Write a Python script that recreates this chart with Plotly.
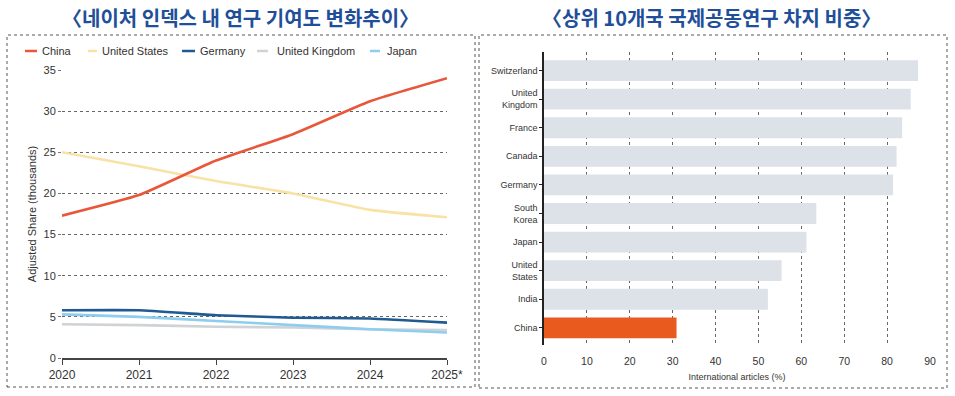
import plotly.graph_objects as go

# ---- Left chart data: Nature Index adjusted share (thousands) ----
years = [2020, 2021, 2022, 2023, 2024, 2025]
year_labels = ["2020", "2021", "2022", "2023", "2024", "2025*"]
china = [17.3, 19.8, 24.0, 27.2, 31.2, 34.0]
united_states = [25.0, 23.3, 21.5, 20.0, 18.0, 17.1]
germany = [5.8, 5.8, 5.2, 4.9, 4.8, 4.3]
united_kingdom = [4.1, 4.0, 3.8, 3.7, 3.5, 3.4]
japan = [5.3, 5.0, 4.5, 4.0, 3.5, 3.1]
series_names = ["China", "United States", "Germany", "United Kingdom", "Japan"]
series_colors = ["#e8573a", "#f8e2a6", "#1f5a92", "#cfd3d6", "#8fcdef"]
y_ticks = [0, 5, 10, 15, 20, 25, 30, 35]

# ---- Right chart data: share of international articles (%) ----
countries = ["China", "India", "United<br>States", "Japan", "South<br>Korea",
             "Germany", "Canada", "France", "United<br>Kingdom", "Switzerland"]
intl_share = [30.9, 52.2, 55.4, 61.2, 63.5, 81.4, 82.2, 83.5, 85.5, 87.2]
bar_colors = ["#e85a1e"] + ["#dde1e8"] * 9
x_ticks = [0, 10, 20, 30, 40, 50, 60, 70, 80, 90]

W, H = 955, 396


def px(x):
    return x / W


def py(y):
    return 1 - y / H


FONT = "Liberation Sans"
TXT = "#333333"

fig = go.Figure()
all_series = [china, united_states, germany, united_kingdom, japan]
order = [3, 4, 1, 2, 0]
for i in order:
    fig.add_trace(go.Scatter(
        x=years, y=all_series[i], mode="lines", name=series_names[i],
        line=dict(color=series_colors[i], width=2.6, shape="spline", smoothing=0.4),
        xaxis="x", yaxis="y", showlegend=False))

fig.add_trace(go.Bar(
    x=intl_share, y=countries, orientation="h",
    marker=dict(color=bar_colors, line=dict(width=0)),
    xaxis="x2", yaxis="y2", showlegend=False))

fig.update_layout(
    width=W, height=H, margin=dict(l=0, r=0, t=0, b=0),
    paper_bgcolor="white", plot_bgcolor="white",
    font=dict(family=FONT, size=10, color=TXT),
    bargap=0.27,
    xaxis=dict(domain=[px(62), px(447)], range=[2020, 2025], tickvals=years, ticktext=year_labels,
               showgrid=False, zeroline=False, showline=True, linecolor="#444", linewidth=1.5,
               ticks="outside", ticklen=5, tickcolor="#444", tickfont=dict(size=12, color=TXT),
               automargin=False, anchor="y"),
    yaxis=dict(domain=[py(358), py(70)], range=[0, 35], tickvals=y_ticks,
               showgrid=True, gridcolor="#666", griddash="dot", gridwidth=1.3,
               zeroline=False, showline=False, ticks="outside", ticklen=3, tickcolor="#777",
               tickfont=dict(size=11, color=TXT), automargin=False,
               title=dict(text="Adjusted Share (thousands)", font=dict(size=11, color=TXT), standoff=4),
               anchor="x"),
    xaxis2=dict(domain=[px(544), px(930)], range=[0, 90], tickvals=x_ticks,
                showgrid=True, gridcolor="#666", griddash="dot", gridwidth=1,
                zeroline=False, showline=False, ticks="", ticklabelstandoff=8,
                tickfont=dict(size=10.5, color=TXT), automargin=False,
                title=dict(text="International articles (%)", font=dict(size=9, color=TXT), standoff=8),
                anchor="y2"),
    yaxis2=dict(domain=[py(345), py(52)], range=[-0.6, 9.65], type="category",
                showgrid=False, zeroline=False, showline=True, linecolor="#222", linewidth=1.5,
                ticks="outside", ticklen=3, tickcolor="#222", tickfont=dict(size=9, color=TXT),
                automargin=False, anchor="x2"),
)

shapes = []
# panel borders
for (x0, y0, x1, y1) in [(7, 35, 475, 387), (479, 35, 947, 388)]:
    shapes.append(dict(type="rect", xref="paper", yref="paper", x0=px(x0), x1=px(x1),
                       y0=py(y1), y1=py(y0), line=dict(color="#555", width=1, dash="dot")))
# manual legend
leg_y = 51
leg_items = [(25, 37, 40), (88, 97, 100), (182, 195, 198), (257, 268, 275), (370, 380, 385)]
annotations = []
for i, (s0, s1, tx) in enumerate(leg_items):
    shapes.append(dict(type="line", xref="paper", yref="paper", x0=px(s0), x1=px(s1),
                       y0=py(leg_y), y1=py(leg_y), line=dict(color=series_colors[i], width=2.5)))
    annotations.append(dict(xref="paper", yref="paper", x=px(tx), y=py(leg_y), text=series_names[i],
                            showarrow=False, xanchor="left", yanchor="middle",
                            font=dict(size=11, color=TXT)))
# titles
TITLE_COLOR = "#1f4f99"
annotations.append(dict(xref="paper", yref="paper", x=px(240), y=py(17),
                        text="〈네이처 인덱스 내 연구 기여도 변화추이〉", showarrow=False,
                        xanchor="center", yanchor="middle",
                        font=dict(family="Noto Sans CJK KR", size=20, color=TITLE_COLOR, weight="bold")))
annotations.append(dict(xref="paper", yref="paper", x=px(711), y=py(17),
                        text="〈상위 10개국 국제공동연구 차지 비중〉", showarrow=False,
                        xanchor="center", yanchor="middle",
                        font=dict(family="Noto Sans CJK KR", size=20, color=TITLE_COLOR, weight="bold")))
fig.update_layout(shapes=shapes, annotations=annotations)

fig.write_html("out.html", config={"displayModeBar": False},
               post_script="document.body.style.margin='0';")
